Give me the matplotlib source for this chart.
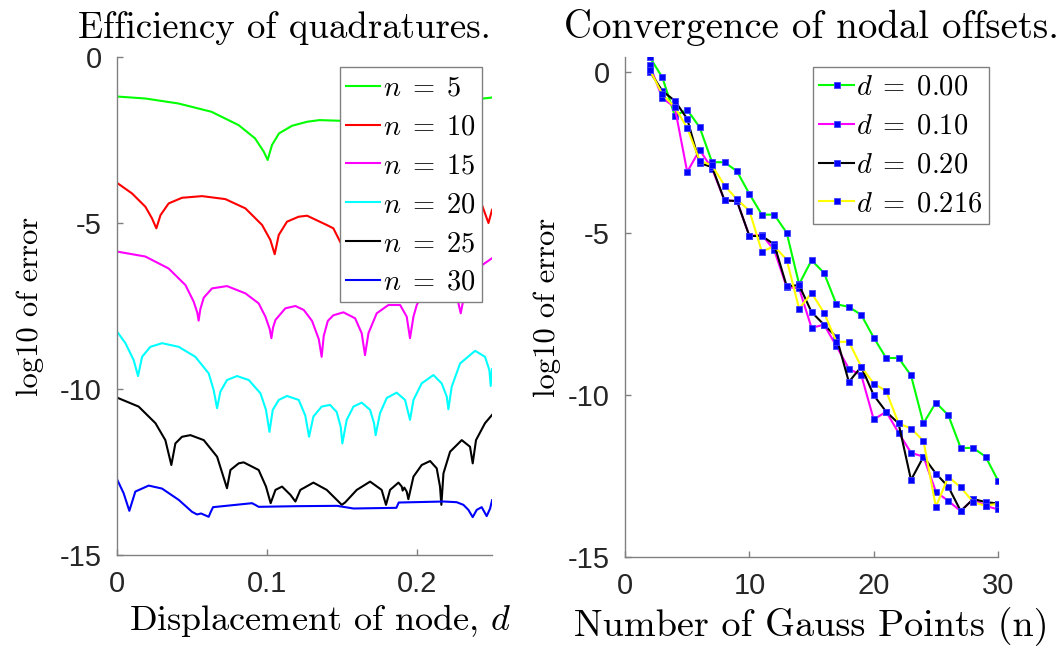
import numpy as np
import matplotlib
matplotlib.use("Agg")
import matplotlib.pyplot as plt

plt.rcParams['mathtext.fontset'] = 'cm'
plt.rcParams['axes.formatter.use_mathtext'] = True

# ---- left panel: log10 error vs node displacement d, one curve per n ----
d_n5 = [0, 0.019, 0.041, 0.063, 0.081, 0.092, 0.0978, 0.1004, 0.1033, 0.108, 0.1167,
        0.1267, 0.135, 0.1487, 0.17, 0.2, 0.225, 0.244, 0.25]
e_n5 = [-1.19, -1.25, -1.4, -1.65, -2.05, -2.45, -2.85, -3.1, -2.65, -2.3, -2.07,
        -1.95, -1.9, -1.92, -1.95, -1.8, -1.5, -1.25, -1.22]

d_n10 = [0, 0.01, 0.0189, 0.0233, 0.0262, 0.029, 0.0344, 0.0433, 0.0567, 0.0722, 0.0856,
         0.0967, 0.1022, 0.1051, 0.1078, 0.1133, 0.1211, 0.1267, 0.1398, 0.1442, 0.1498,
         0.156, 0.165, 0.2, 0.235, 0.2433, 0.2476, 0.25]
e_n10 = [-3.79, -4.11, -4.51, -4.86, -5.16, -4.76, -4.41, -4.24, -4.19, -4.28, -4.56,
         -5.06, -5.51, -5.94, -5.36, -4.96, -4.81, -4.78, -5.06, -5.16, -5.66,
         -6.2, -5.2, -4.3, -4.3, -4.46, -5.0, -4.6]

d_n15 = [0, 0.0189, 0.0344, 0.0456, 0.0511, 0.0535, 0.0544, 0.0555, 0.0578, 0.0633, 0.0733,
         0.0856, 0.0944, 0.0989, 0.1018, 0.1029, 0.104, 0.1056, 0.1122, 0.1189, 0.1245,
         0.13, 0.1345, 0.1364, 0.1378, 0.1405, 0.1442, 0.1509, 0.1587, 0.1631, 0.1653,
         0.1676, 0.1731, 0.1809, 0.1887, 0.1931, 0.1953, 0.1976, 0.1998, 0.203, 0.212,
         0.222, 0.2275, 0.2291, 0.2305, 0.2433, 0.25]
e_n15 = [-5.86, -6.01, -6.37, -6.87, -7.37, -7.7, -7.94, -7.6, -7.25, -6.97, -6.9,
         -7.12, -7.42, -7.82, -8.2, -8.47, -8.15, -7.92, -7.57, -7.5, -7.62,
         -7.95, -8.5, -9.03, -8.4, -7.95, -7.78, -7.69, -7.87, -8.32, -8.98,
         -8.32, -7.72, -7.47, -7.47, -7.82, -8.47, -7.82, -7.47, -7.2, -6.95,
         -7.1, -7.4, -7.72, -7.4, -6.27, -6.06]

d_n20 = [0, 0.0056, 0.0111, 0.014, 0.0167, 0.0222, 0.03, 0.0411, 0.0522, 0.0611, 0.0644,
         0.0667, 0.0689, 0.0733, 0.08, 0.0878, 0.0956, 0.0993, 0.1016, 0.1038, 0.1078,
         0.1133, 0.1211, 0.1255, 0.128, 0.1309, 0.1364, 0.142, 0.1464, 0.1491, 0.1502,
         0.1531, 0.1576, 0.1631, 0.1687, 0.1713, 0.1724, 0.1753, 0.1798, 0.1864, 0.192,
         0.1953, 0.1976, 0.2031, 0.2109, 0.2164, 0.2198, 0.2209, 0.2231, 0.2287, 0.2387,
         0.2453, 0.2482, 0.2491, 0.25]
e_n20 = [-8.27, -8.62, -9.13, -9.61, -9.03, -8.73, -8.62, -8.73, -9.03, -9.53, -10.03,
         -10.58, -10.08, -9.73, -9.61, -9.73, -10.13, -10.63, -11.29, -10.63, -10.33,
         -10.21, -10.33, -10.8, -11.44, -10.83, -10.53, -10.48, -10.69, -11.14, -11.64,
         -10.93, -10.53, -10.41, -10.63, -11.03, -11.39, -10.73, -10.27, -10.11, -10.33,
         -10.93, -10.33, -9.83, -9.58, -9.83, -10.23, -10.61, -9.93, -9.23, -8.85,
         -9.03, -9.43, -9.91, -9.4]

d_n25 = [0, 0.0144, 0.0256, 0.0322, 0.0362, 0.0389, 0.0433, 0.0489, 0.0578, 0.0667, 0.0733,
         0.0756, 0.0811, 0.0844, 0.0944, 0.0993, 0.1024, 0.1056, 0.11, 0.1156, 0.1189,
         0.1222, 0.1309, 0.1398, 0.1476, 0.1498, 0.152, 0.1598, 0.1687, 0.1764, 0.1793,
         0.182, 0.1876, 0.1898, 0.1904, 0.1915, 0.1931, 0.1942, 0.1976, 0.2031, 0.2087,
         0.2131, 0.2153, 0.2162, 0.2176, 0.222, 0.2298, 0.2353, 0.2371, 0.2393, 0.2453, 0.25]
e_n25 = [-10.26, -10.53, -11.03, -11.54, -12.29, -11.64, -11.44, -11.39, -11.54, -12.04, -12.99,
         -12.44, -12.24, -12.21, -12.44, -12.94, -13.44, -13.04, -12.94, -13.19, -13.39,
         -13.04, -12.82, -13.04, -13.39, -13.49, -13.42, -13.04, -12.79, -13.04, -13.49,
         -13.04, -12.82, -12.94, -13.06, -12.97, -13.09, -13.32, -12.64, -12.29, -12.17,
         -12.39, -12.94, -13.49, -12.54, -11.89, -11.54, -11.74, -12.24, -11.54, -11.03, -10.78]

d_n30 = [0, 0.0044, 0.0082, 0.0122, 0.0211, 0.03, 0.0411, 0.05, 0.0533, 0.056, 0.0611,
         0.0625, 0.064, 0.09, 0.0925, 0.0944, 0.12, 0.1467, 0.1576, 0.1862, 0.1878,
         0.2176, 0.2264, 0.2309, 0.2342, 0.2371, 0.2398, 0.2431, 0.2464, 0.2487, 0.25]
e_n30 = [-12.72, -13.14, -13.67, -13.09, -12.91, -13.0, -13.34, -13.7, -13.78, -13.75, -13.85,
         -13.7, -13.56, -13.44, -13.5, -13.55, -13.53, -13.52, -13.6, -13.58, -13.42,
         -13.39, -13.41, -13.49, -13.64, -13.86, -13.64, -13.56, -13.83, -13.6, -13.35]

# ---- right panel: log10 error vs number of Gauss points ----
n_pts = list(range(2, 31))
err_d000 = [0.44, -0.18, -1.36, -1.18, -1.72, -2.8, -2.8, -3.08, -3.78, -4.42, -4.42,
            -4.98, -6.57, -5.83, -6.22, -7.19, -7.27, -7.52, -8.22, -8.85, -8.85,
            -9.39, -10.87, -10.23, -10.62, -11.63, -11.63, -11.9, -12.64]
err_d010 = [0.19, -0.82, -1.1, -3.1, -2.42, -3.0, -3.98, -4.0, -5.08, -5.04, -5.52,
            -6.66, -6.7, -7.92, -7.82, -8.48, -9.18, -9.38, -10.75, -10.51, -11.16,
            -11.78, -11.9, -12.98, -13.27, -13.58, -13.21, -13.42, -13.53]
err_d020 = [0.0, -0.6, -0.9, -1.46, -2.83, -2.95, -3.98, -4.0, -5.08, -5.08, -5.34,
            -6.63, -6.6, -7.43, -7.82, -8.2, -9.59, -9.12, -10.0, -10.51, -10.87,
            -12.62, -11.9, -12.42, -12.83, -13.58, -13.21, -13.3, -13.35]
err_d0216 = [0.05, -0.7, -1.1, -1.74, -2.75, -2.9, -3.52, -3.95, -4.3, -5.56, -5.4,
             -5.81, -7.33, -6.84, -7.45, -8.35, -8.35, -9.12, -9.64, -9.87, -10.87,
             -11.03, -11.41, -13.45, -12.52, -12.85, -13.3, -13.42, -13.35]

fig = plt.figure(figsize=(10.63, 6.57), dpi=100)
ax1 = fig.add_axes([0.1101, 0.1553, 0.3528, 0.7579])
ax2 = fig.add_axes([0.588, 0.1522, 0.3509, 0.761])

grey = '#808080'
tick_font = 'Liberation Sans'
cm = 'cmr10'

curves = [(d_n5, e_n5, '#00ff00', r'$n\;=\;5$'),
          (d_n10, e_n10, '#ff0000', r'$n\;=\;10$'),
          (d_n15, e_n15, '#ff00ff', r'$n\;=\;15$'),
          (d_n20, e_n20, '#00ffff', r'$n\;=\;20$'),
          (d_n25, e_n25, '#000000', r'$n\;=\;25$'),
          (d_n30, e_n30, '#0000ff', r'$n\;=\;30$')]
for dd, ee, c, lab in curves:
    ax1.plot(dd, ee, color=c, lw=1.5, label=lab)

series = [(err_d000, '#00ff00', r'$d\;=\;0.00$'),
          (err_d010, '#ff00ff', r'$d\;=\;0.10$'),
          (err_d020, '#000000', r'$d\;=\;0.20$'),
          (err_d0216, '#ffff00', r'$d\;=\;0.216$')]
for ee, c, lab in series:
    ax2.plot(n_pts, ee, color=c, lw=1.5, marker='s', ms=5, mfc='#0000ff',
             mec='#4040ff', mew=0.6, label=lab)

ax1.set_xlim(0, 0.25)
ax1.set_ylim(-15, 0)
ax1.set_xticks([0, 0.1, 0.2])
ax1.set_xticklabels(['0', '0.1', '0.2'])
ax2.set_xlim(0, 30)
ax2.set_ylim(-15, 0.45)
ax2.set_xticks([0, 10, 20, 30])
ax2.set_xticklabels(['0', '10', '20', '30'])

for ax in (ax1, ax2):
    ax.set_yticks([0, -5, -10, -15])
    ax.set_yticklabels(['0', '-5', '-10', '-15'])
    for s in ('top', 'right'):
        ax.spines[s].set_visible(False)
    for s in ('left', 'bottom'):
        ax.spines[s].set_color(grey)
        ax.spines[s].set_linewidth(1.0)
    ax.tick_params(direction='in', length=4, width=1.0, color=grey,
                   labelsize=21, labelcolor='#262626', pad=11)
    for t in ax.get_xticklabels() + ax.get_yticklabels():
        t.set_fontfamily(tick_font)

ax1.set_ylabel('log10 of error', fontfamily=cm, fontsize=22, labelpad=11)
ax2.set_ylabel('log10 of error', fontfamily=cm, fontsize=22, labelpad=5)

ax1.set_title('Efficiency of quadratures.', fontfamily=cm, fontsize=26.5, x=0.445, pad=14)
ax2.set_title('Convergence of nodal offsets.', fontfamily=cm, fontsize=28, pad=14)
ax1.set_xlabel('Displacement of node, $d$', fontfamily=cm, fontsize=26, labelpad=5)
ax1.xaxis.set_label_coords(0.541, -0.095, transform=ax1.transAxes)
ax2.set_xlabel('Number of Gauss Points (n)', fontfamily=cm, fontsize=27.5, labelpad=5)
ax1.xaxis.label.set_verticalalignment('top')

leg_kw = dict(fontsize=20.5, frameon=True, fancybox=False, framealpha=1,
              edgecolor=grey, borderaxespad=0, handlelength=1.2,
              handletextpad=0.1, labelspacing=0.38, borderpad=0.22)
l1 = ax1.legend(loc='upper right', bbox_to_anchor=(0.9725, 0.979), **leg_kw)
l2 = ax2.legend(loc='upper right', bbox_to_anchor=(0.976, 0.9806), **leg_kw)
for lg in (l1, l2):
    lg.get_frame().set_linewidth(1.0)

fig.savefig('out.png', dpi=100)
